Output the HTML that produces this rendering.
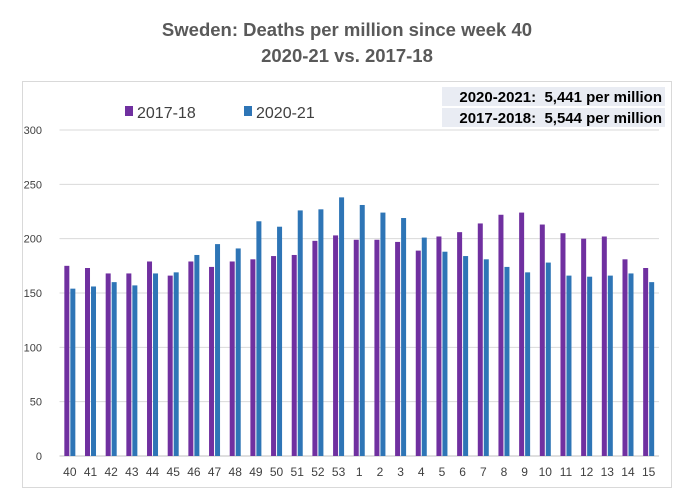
<!DOCTYPE html>
<html><head><meta charset="utf-8"><style>
body{margin:0;background:#fff;width:680px;height:498px;overflow:hidden;font-family:"Liberation Sans",sans-serif}
text{white-space:pre}
</style></head><body>
<svg width="680" height="498">
<text x="347" y="36" text-anchor="middle" font-size="18.5" font-weight="bold" fill="#595959">Sweden: Deaths per million since week 40</text>
<text x="347" y="62" text-anchor="middle" font-size="18.5" font-weight="bold" fill="#595959">2020-21 vs. 2017-18</text>
<rect x="22.5" y="81.5" width="649" height="406" fill="none" stroke="#d9d9d9"/>
<g id="grid"></g><g id="bars"></g><g id="xl"></g>
<rect x="125" y="106" width="8" height="10" fill="#7030a0"/>
<text x="137" y="118" font-size="16" fill="#404040">2017-18</text>
<rect x="244" y="106" width="8" height="10" fill="#2e75b6"/>
<text x="256" y="118" font-size="16" fill="#404040">2020-21</text>
<rect x="442" y="87" width="223" height="19" fill="#e9ecf3"/>
<rect x="442" y="108" width="223" height="19" fill="#e9ecf3"/>
<text x="662" y="102" text-anchor="end" font-size="15" font-weight="bold" fill="#000">2020-2021:  5,441 per million</text>
<text x="662" y="123" text-anchor="end" font-size="15" font-weight="bold" fill="#000">2017-2018:  5,544 per million</text>
</svg>
<script>
const weeks=["40","41","42","43","44","45","46","47","48","49","50","51","52","53","1","2","3","4","5","6","7","8","9","10","11","12","13","14","15"];
const s1718=[175,173,168,168,179,166,179,174,179,181,184,185,198,203,199,199,197,189,202,206,214,222,224,213,205,200,202,181,173];
const s2021=[154,156,160,157,168,169,185,195,191,216,211,226,227,238,231,224,219,201,188,184,181,174,169,178,166,165,166,168,160];
const yTicks=[0,50,100,150,200,250,300];
const NS="http://www.w3.org/2000/svg";
const x0=59.5,x1=659,yb=456,yt=130,ymax=300;
const step=(x1-x0)/weeks.length;
const Y=v=>yb-(v/ymax)*(yb-yt);
const X=i=>x0+step*(i+0.5);
function mk(t,a,p){const e=document.createElementNS(NS,t);for(const k in a)e.setAttribute(k,a[k]);p.appendChild(e);return e;}
const g=document.getElementById('grid'),b=document.getElementById('bars'),xl=document.getElementById('xl');
yTicks.forEach(v=>{
 const l=mk('line',{x1:x0,x2:x1,y1:Y(v),y2:Y(v),stroke:v?'#d9d9d9':'#bfbfbf','stroke-width':1},g);
 
 
 const t=mk('text',{x:42,y:Y(v)+4,'text-anchor':'end','font-size':11,fill:'#404040'},g);
 t.textContent=v;
 
 
});
weeks.forEach((w,i)=>{
 const c=X(i);
 const r1=mk('rect',{x:c-5.5,y:Y(s1718[i]),width:5,height:yb-Y(s1718[i]),fill:'#7030a0'},b);
 
 
 const r2=mk('rect',{x:c+0.5,y:Y(s2021[i]),width:5,height:yb-Y(s2021[i]),fill:'#2e75b6'},b);
 
 
 const t=mk('text',{x:c,y:476,'text-anchor':'middle','font-size':12,fill:'#404040'},xl);
 t.textContent=w;
 
 
});
</script>
</body></html>
